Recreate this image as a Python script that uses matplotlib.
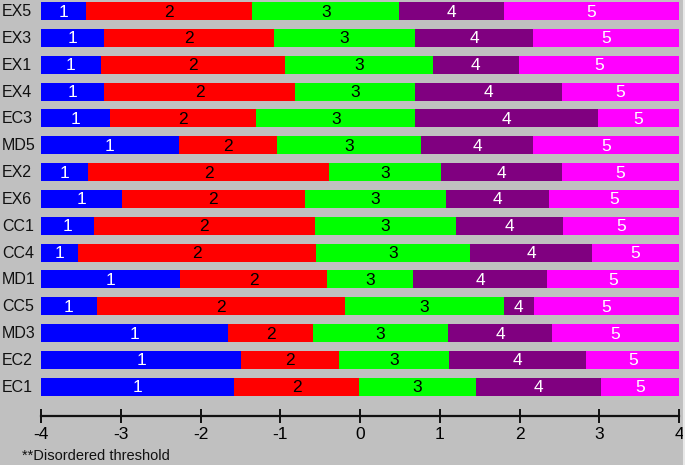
import matplotlib
matplotlib.use("Agg")
import matplotlib.pyplot as plt
import matplotlib.transforms as mtransforms
import numpy as np

plt.rcParams['font.family'] = ['Liberation Sans Narrow', 'Liberation Sans', 'DejaVu Sans']
plt.rcParams['axes.unicode_minus'] = False

# items from top to bottom
items = ["EX5", "EX3", "EX1", "EX4", "EC3", "MD5", "EX2", "EX6",
         "CC1", "CC4", "MD1", "CC5", "MD3", "EC2", "EC1"]

# thresholds (boundaries between categories 1|2, 2|3, 3|4, 4|5)
t1 = [-3.44, -3.21, -3.25, -3.21, -3.13, -2.27, -3.41, -2.99,
      -3.34, -3.53, -2.26, -3.30, -1.65, -1.49, -1.58]
t2 = [-1.35, -1.08, -0.94, -0.81, -1.30, -1.04, -0.39, -0.69,
      -0.57, -0.55, -0.41, -0.19, -0.59, -0.26, -0.01]
t3 = [0.49, 0.69, 0.91, 0.69, 0.69, 0.77, 1.02, 1.08,
      1.21, 1.38, 0.67, 1.80, 1.10, 1.12, 1.45]
t4 = [1.80, 2.17, 1.99, 2.53, 2.98, 2.17, 2.53, 2.37,
      2.55, 2.91, 2.34, 2.18, 2.41, 2.84, 3.02]

x_min, x_max = -4, 4
colores = ['#0000FF', '#FF0000', '#00FF00', '#800080', '#FF00FF']
color_texto = ['white', 'black', 'black', 'white', 'white']
fondo = '#C0C0C0'
tam = 12.5

fig = plt.figure(figsize=(6.85, 4.65), dpi=100, facecolor=fondo)
# axes: left edge at -4 (px 41), right edge at 4 (px 679), bottom = axis line
ax = fig.add_axes([41 / 685, (465 - 415.7) / 465, 638 / 685, 415.7 / 465])
ax.set_facecolor(fondo)

n = len(items)
ypos = np.arange(n)[::-1]  # top item gets highest y

limites = np.column_stack([np.full(n, x_min), t1, t2, t3, t4, np.full(n, x_max)])

for k in range(5):
    left = limites[:, k]
    width = limites[:, k + 1] - limites[:, k]
    ax.barh(ypos, width, left=left, height=0.67, color=colores[k], linewidth=0)
    for y, l, w in zip(ypos, left, width):
        ax.text(l + w / 2, y - 0.04, str(k + 1), ha='center', va='center',
                fontsize=tam, color=color_texto[k])

# item labels on the left
trans = mtransforms.blended_transform_factory(fig.transFigure, ax.transData)
for y, nombre in zip(ypos, items):
    ax.text(2 / 685, y - 0.02, nombre, transform=trans, ha='left', va='center',
            fontsize=11.5, color='#111111')

ax.set_xlim(x_min, x_max)
ax.set_ylim(-1.08, n - 1 + 0.41)

for lado in ['left', 'right', 'top']:
    ax.spines[lado].set_visible(False)
ax.spines['bottom'].set_linewidth(1.6)
ax.spines['bottom'].set_color('#111111')

ax.set_xticks(np.arange(-4, 5))
ax.set_xticklabels([str(v) for v in range(-4, 5)], fontsize=tam)
ax.tick_params(axis='x', direction='inout', length=10.5, width=1.4,
               color='#111111', pad=3)
ax.set_yticks([])

fig.text(22 / 685, 1 - 456 / 465, "**Disordered threshold", ha='left',
         va='center', fontsize=10.5, color='#111111')

# light right edge of window
fig.add_artist(plt.Line2D([683.5 / 685, 683.5 / 685], [0, 1],
                          transform=fig.transFigure, color='#E8E8E8', lw=1.5))

fig.savefig("out.png", dpi=100, facecolor=fondo)
